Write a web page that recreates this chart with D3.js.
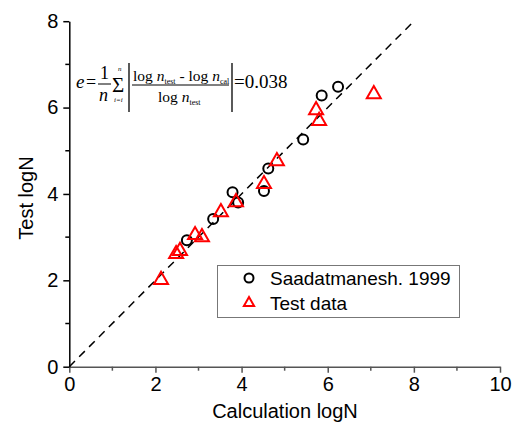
<!DOCTYPE html>
<html><head><meta charset="utf-8">
<script src="https://cdn.jsdelivr.net/npm/d3@7"></script>
<style>body{margin:0;background:#fff}svg{display:block}</style>
</head><body>
<svg id="c" width="512" height="428"></svg>
<script>
// Data
const saadX = [6.24, 5.86, 5.43, 4.62, 4.52, 3.79, 3.92, 3.34, 2.73];
const saadY = [6.48, 6.28, 5.26, 4.59, 4.07, 4.04, 3.80, 3.42, 2.93];
const testX = [7.07, 5.73, 5.80, 4.82, 4.52, 3.87, 3.52, 3.08, 2.92, 2.57, 2.48, 2.13];
const testY = [6.31, 5.94, 5.69, 4.76, 4.23, 3.81, 3.58, 3.00, 3.05, 2.68, 2.61, 2.01];
const xTicks = [0, 2, 4, 6, 8, 10];
const yTicks = [0, 2, 4, 6, 8];
const legendLabels = ["Saadatmanesh. 1999", "Test data"];
const refLine = [0, 8];

const svg = d3.select("#c");
const x = d3.scaleLinear().domain([0, 10]).range([69.3, 500]);
const y = d3.scaleLinear().domain([0, 8]).range([366.7, 21.2]);
const SANS = "Arial, 'Liberation Sans', sans-serif";

// Axes
const xAxis = d3.axisBottom(x).tickValues(xTicks).tickSize(6).tickPadding(4).tickSizeOuter(0);
const gx = svg.append("g").attr("transform", `translate(0,${y(0)})`).call(xAxis);
gx.select(".domain").attr("stroke", "#555").attr("stroke-width", 1.5);
gx.selectAll(".tick line").attr("stroke", "#555").attr("stroke-width", 1.5);
gx.selectAll(".tick text").attr("font-family", SANS).attr("font-size", 20).attr("fill", "#000");
gx.selectAll(".minor").data(d3.range(1, 10, 2)).enter().append("line")
  .attr("x1", d => x(d)).attr("x2", d => x(d)).attr("y1", 0).attr("y2", 4)
  .attr("stroke", "#555").attr("stroke-width", 1.5);

const yAxis = d3.axisLeft(y).tickValues(yTicks).tickSize(6).tickPadding(5).tickSizeOuter(0);
const gy = svg.append("g").attr("transform", `translate(${x(0)},0)`).call(yAxis);
gy.select(".domain").attr("stroke", "#000").attr("stroke-width", 1.5);
gy.selectAll(".tick line").attr("stroke", "#000").attr("stroke-width", 1.5);
gy.selectAll(".tick text").attr("font-family", SANS).attr("font-size", 20).attr("fill", "#000");
gy.selectAll(".minor").data(d3.range(1, 8, 2)).enter().append("line")
  .attr("y1", d => y(d)).attr("y2", d => y(d)).attr("x1", 0).attr("x2", -4)
  .attr("stroke", "#000").attr("stroke-width", 1.5);

// Titles
svg.append("text").attr("x", 285).attr("y", 418).attr("text-anchor", "middle")
  .attr("font-family", SANS).attr("font-size", 20).text("Calculation logN");
svg.append("text").attr("transform", "translate(33,198) rotate(-90)").attr("text-anchor", "middle")
  .attr("font-family", SANS).attr("font-size", 20).text("Test logN");

// Reference line y = x
svg.append("line").attr("x1", x(refLine[0])).attr("y1", y(refLine[0])).attr("x2", x(refLine[1])).attr("y2", y(refLine[1]))
  .attr("stroke", "#000").attr("stroke-width", 1.5).attr("stroke-dasharray", "8,6");

// Points
const saad = saadX.map((v, i) => [v, saadY[i]]);
const test = testX.map((v, i) => [v, testY[i]]);
svg.append("g").selectAll("circle").data(saad).enter().append("circle")
  .attr("cx", d => x(d[0])).attr("cy", d => y(d[1])).attr("r", 5)
  .attr("fill", "none").attr("stroke", "#000").attr("stroke-width", 2);
const tri = d3.symbol().type(d3.symbolTriangle).size(85);
svg.append("g").selectAll("path").data(test).enter().append("path")
  .attr("d", tri).attr("transform", d => `translate(${x(d[0])},${y(d[1])})`)
  .attr("fill", "none").attr("stroke", "#f00").attr("stroke-width", 2);

// Legend
svg.append("rect").attr("x", 217.5).attr("y", 265.5).attr("width", 242).attr("height", 52)
  .attr("fill", "#fff").attr("stroke", "#777").attr("stroke-width", 1);
svg.append("circle").attr("cx", 249).attr("cy", 278).attr("r", 4.5)
  .attr("fill", "none").attr("stroke", "#000").attr("stroke-width", 2);
svg.append("path").attr("d", d3.symbol().type(d3.symbolTriangle).size(45))
  .attr("transform", "translate(249,303)").attr("fill", "none").attr("stroke", "#f00").attr("stroke-width", 2);
svg.selectAll(".leg").data(legendLabels).enter().append("text")
  .attr("x", 270).attr("y", (d, i) => 285 + i * 25)
  .attr("font-family", SANS).attr("font-size", 19).text(d => d);

// Formula
const F = "'Times New Roman', 'Liberation Serif', serif";
const f = svg.append("g").attr("font-family", F).attr("fill", "#000");
f.append("text").attr("x", 76).attr("y", 88).attr("font-size", 19).attr("font-style", "italic").text("e");
f.append("text").attr("x", 86).attr("y", 88).attr("font-size", 18).text("=");
f.append("text").attr("x", 100).attr("y", 79).attr("font-size", 18).text("1");
f.append("line").attr("x1", 98).attr("x2", 111).attr("y1", 84).attr("y2", 84).attr("stroke", "#000").attr("stroke-width", 1);
f.append("text").attr("x", 99).attr("y", 101).attr("font-size", 18).attr("font-style", "italic").text("n");
f.append("text").attr("x", 112).attr("y", 92).attr("font-size", 21).text("Σ");
f.append("text").attr("x", 118).attr("y", 71).attr("font-size", 7).attr("font-style", "italic").text("n");
f.append("text").attr("x", 114).attr("y", 102).attr("font-size", 7).attr("font-style", "italic").text("i=i");
f.append("line").attr("x1", 129).attr("x2", 129).attr("y1", 63).attr("y2", 112).attr("stroke", "#000").attr("stroke-width", 1.3);
const num = f.append("text").attr("x", 133).attr("y", 81).attr("font-size", 15.5);
num.append("tspan").text("log ");
num.append("tspan").attr("font-style", "italic").text("n");
num.append("tspan").attr("font-size", 8).attr("dy", 3).text("test");
num.append("tspan").attr("dy", -3).text(" - log ");
num.append("tspan").attr("font-style", "italic").text("n");
num.append("tspan").attr("font-size", 8).attr("dy", 3).text("cal");
f.append("line").attr("x1", 132).attr("x2", 229).attr("y1", 85).attr("y2", 85).attr("stroke", "#000").attr("stroke-width", 1);
const den = f.append("text").attr("x", 158).attr("y", 102).attr("font-size", 15.5);
den.append("tspan").text("log ");
den.append("tspan").attr("font-style", "italic").text("n");
den.append("tspan").attr("font-size", 8).attr("dy", 3).text("test");
f.append("line").attr("x1", 232).attr("x2", 232).attr("y1", 63).attr("y2", 112).attr("stroke", "#000").attr("stroke-width", 1.3);
f.append("text").attr("x", 234).attr("y", 88).attr("font-size", 19).text("=0.038");
</script>
</body></html>
